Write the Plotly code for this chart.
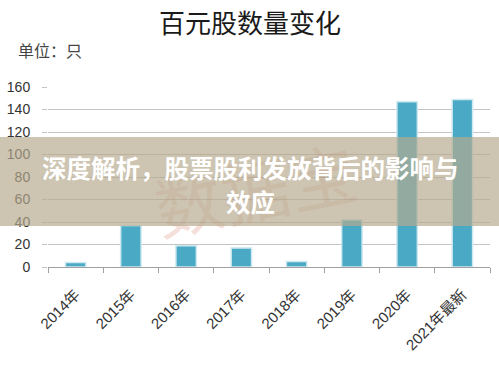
import plotly.graph_objects as go

categories = ["2014年", "2015年", "2016年", "2017年", "2018年", "2019年", "2020年", "2021年最新"]
counts = [4, 37, 19, 17, 5, 42, 147, 149]
y_ticks = [0, 20, 40, 60, 80, 100, 120, 140, 160]

title_text = "百元股数量变化"
unit_text = "单位：只"
banner_line1 = "深度解析，股票股利发放背后的影响与"
banner_line2 = "效应"
watermark = "数据宝"

fnt = "Liberation Sans, Noto Sans CJK SC, sans-serif"

fig = go.Figure()
fig.add_trace(go.Bar(
    x=categories, y=counts,
    marker=dict(color="#4aaac6", line=dict(color="#cfe9f0", width=1.5)),
))

fig.update_layout(
    width=499, height=365,
    margin=dict(l=48, r=9, t=87, b=98, autoexpand=False),
    paper_bgcolor="white", plot_bgcolor="white",
    showlegend=False,
    bargap=0.63,
    font=dict(family=fnt, color="#333333"),
    xaxis=dict(
        type="category", automargin=False,
        showline=True, linecolor="#a0a0a0", linewidth=1,
        ticks="outside", tickson="boundaries", ticklen=5, tickcolor="#a0a0a0",
        tickangle=-45, tickfont=dict(size=15, color="#333333"),
        ticklabelstandoff=12,
        showgrid=False,
    ),
    yaxis=dict(
        range=[0, 160], tickvals=y_ticks, automargin=False,
        showgrid=True, gridcolor="#c4c4c4", gridwidth=1,
        ticks="outside", ticklen=5, tickcolor="#c4c4c4",
        tickfont=dict(size=14, color="#333333"),
        ticklabelstandoff=9,
        showline=False, zeroline=False,
    ),
)

def px_x(px):
    return (px - 48) / 442

def px_y(py):
    return (267 - py) / 180

# Title and unit
fig.add_annotation(text=title_text, xref="paper", yref="paper",
                   x=px_x(250), y=px_y(22), xanchor="center", yanchor="middle",
                   showarrow=False, font=dict(size=26, color="#1a1a1a", family="Noto Sans CJK SC"))
fig.add_annotation(text=unit_text, xref="paper", yref="paper",
                   x=px_x(16), y=px_y(50), xanchor="left", yanchor="middle",
                   showarrow=False, font=dict(size=16, color="#444444", family="Noto Sans CJK SC"))

# Watermark (drawn first, below the banner)
fig.add_annotation(text=watermark, xref="paper", yref="paper",
                   x=px_x(255), y=px_y(187), xanchor="center", yanchor="middle",
                   textangle=-11, showarrow=False,
                   font=dict(size=68, color="rgba(205,95,75,0.2)", family="Noto Sans CJK SC"))

# Banner overlay (as a background box annotation so it sits over the watermark)
fig.add_annotation(text=" ", xref="paper", yref="paper",
                   x=px_x(249.5), y=px_y(181.5), xanchor="center", yanchor="middle",
                   width=510, height=89, borderpad=0, borderwidth=0,
                   bgcolor="rgba(182,170,142,0.68)", showarrow=False,
                   font=dict(size=10))
fig.add_annotation(text="<b>" + banner_line1 + "</b>", xref="paper", yref="paper",
                   x=px_x(250), y=px_y(167), xanchor="center", yanchor="middle",
                   showarrow=False, font=dict(size=24.5, color="white", family="Noto Sans CJK SC"))
fig.add_annotation(text="<b>" + banner_line2 + "</b>", xref="paper", yref="paper",
                   x=px_x(250), y=px_y(201), xanchor="center", yanchor="middle",
                   showarrow=False, font=dict(size=24.5, color="white", family="Noto Sans CJK SC"))

fig.write_html("out.html", config={"displayModeBar": False},
               post_script="document.body.style.margin='0';")
